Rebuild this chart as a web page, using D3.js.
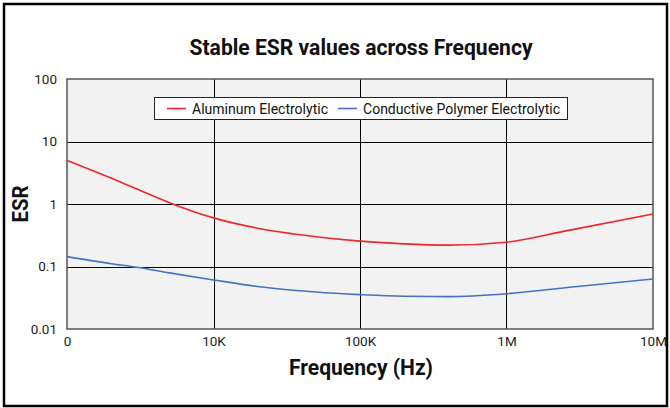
<!DOCTYPE html>
<html><head><meta charset="utf-8">
<script src="https://cdn.jsdelivr.net/npm/d3@7"></script>
<style>body{margin:0;background:#fff}svg{display:block;font-family:Roboto,"Liberation Sans",sans-serif}</style>
</head><body><svg id="c" width="670" height="408"></svg>
<script>
const freqs = [1e3, 2e3, 3e3, 5e3, 1e4, 2e4, 5e4, 1e5, 2e5, 4e5, 1e6, 2.6e6, 1e7];
const aluminum = [5.0, 2.6, 1.74, 1.05, 0.6, 0.41, 0.30, 0.255, 0.23, 0.22, 0.245, 0.375, 0.69];
const polymer = [0.144, 0.111, 0.097, 0.079, 0.061, 0.048, 0.039, 0.0355, 0.0334, 0.033, 0.0367, 0.046, 0.063];
const xTicks = [1e3, 1e4, 1e5, 1e6, 1e7];
const xTickLabels = ["0", "10K", "100K", "1M", "10M"];
const yTicks = [0.01, 0.1, 1, 10, 100];
const yTickLabels = ["0.01", "0.1", "1", "10", "100"];
const seriesNames = ["Aluminum Electrolytic", "Conductive Polymer Electrolytic"];
const seriesColors = ["#f0262b", "#4472c4"];

const svg = d3.select("#c");
const L = 67, R = 653, T = 79, B = 329;
const x = d3.scaleLog().domain([1e3, 1e7]).range([L, R]);
const y = d3.scaleLog().domain([0.01, 100]).range([B, T]);

// outer border
svg.append("rect").attr("x", 4).attr("y", 4).attr("width", 663).attr("height", 402)
  .attr("fill", "none").attr("stroke", "#000").attr("stroke-width", 2.5);

// plot background
svg.append("rect").attr("x", L).attr("y", T).attr("width", R - L).attr("height", B - T).attr("fill", "#f2f2f2");

// gridlines
svg.append("g").selectAll("line").data(xTicks.slice(1, -1)).join("line")
  .attr("x1", d => Math.round(x(d)) + 0.5).attr("x2", d => Math.round(x(d)) + 0.5)
  .attr("y1", T).attr("y2", B).attr("stroke", "#000").attr("stroke-width", 1);
svg.append("g").selectAll("line").data(yTicks.slice(1, -1)).join("line")
  .attr("y1", d => Math.round(y(d)) + 0.5).attr("y2", d => Math.round(y(d)) + 0.5)
  .attr("x1", L).attr("x2", R).attr("stroke", "#000").attr("stroke-width", 1);

// plot border
svg.append("rect").attr("x", L).attr("y", T).attr("width", R - L).attr("height", B - T)
  .attr("fill", "none").attr("stroke", "#555").attr("stroke-width", 1.5);

// axes (tick labels only)
const xAxis = d3.axisBottom(x).tickValues(xTicks).tickFormat((d, i) => xTickLabels[i]).tickSize(0).tickPadding(7);
const gx = svg.append("g").attr("transform", `translate(0,${B})`).call(xAxis);
gx.select(".domain").remove();
gx.selectAll("text").attr("font-size", 13.5).attr("fill", "#222").attr("font-family", "Roboto");

const yAxis = d3.axisLeft(y).tickValues(yTicks).tickFormat((d, i) => yTickLabels[i]).tickSize(0).tickPadding(10);
const gy = svg.append("g").attr("transform", `translate(${L},0)`).call(yAxis);
gy.select(".domain").remove();
gy.selectAll("text").attr("font-size", 13.5).attr("fill", "#222").attr("font-family", "Roboto");

// lines
const line = d3.line().x(d => x(d[0])).y(d => y(d[1])).curve(d3.curveMonotoneX);
[aluminum, polymer].forEach((vals, i) => {
  svg.append("path").datum(freqs.map((f, j) => [f, vals[j]]))
    .attr("d", line).attr("fill", "none").attr("stroke", seriesColors[i]).attr("stroke-width", 1.6);
});

// title
svg.append("text").attr("x", 361).attr("y", 55).attr("text-anchor", "middle")
  .attr("font-size", 22).attr("font-weight", "bold").attr("fill", "#111")
  .attr("textLength", 343).attr("lengthAdjust", "spacingAndGlyphs")
  .text("Stable ESR values across Frequency");

// axis titles
svg.append("text").attr("x", 361).attr("y", 375).attr("text-anchor", "middle")
  .attr("font-size", 22).attr("font-weight", "bold").attr("fill", "#111")
  .attr("textLength", 144).attr("lengthAdjust", "spacingAndGlyphs")
  .text("Frequency (Hz)");
svg.append("text").attr("transform", "translate(28,204) rotate(-90)").attr("text-anchor", "middle")
  .attr("font-size", 22).attr("font-weight", "bold").attr("fill", "#111")
  .attr("textLength", 37).attr("lengthAdjust", "spacingAndGlyphs")
  .text("ESR");

// legend
const lg = svg.append("g");
lg.append("rect").attr("x", 154.5).attr("y", 97.5).attr("width", 413).attr("height", 22)
  .attr("fill", "#fff").attr("stroke", "#222").attr("stroke-width", 1);
const legItems = [{x: 167, tx: 192, tl: 136}, {x: 338, tx: 363, tl: 197}];
legItems.forEach((it, i) => {
  lg.append("line").attr("x1", it.x).attr("x2", it.x + 19).attr("y1", 108.5).attr("y2", 108.5)
    .attr("stroke", seriesColors[i]).attr("stroke-width", 1.6);
  lg.append("text").attr("x", it.tx).attr("y", 113.5).attr("font-size", 14).attr("fill", "#111")
    .attr("textLength", it.tl).attr("lengthAdjust", "spacingAndGlyphs")
    .text(seriesNames[i]);
});
</script></body></html>
